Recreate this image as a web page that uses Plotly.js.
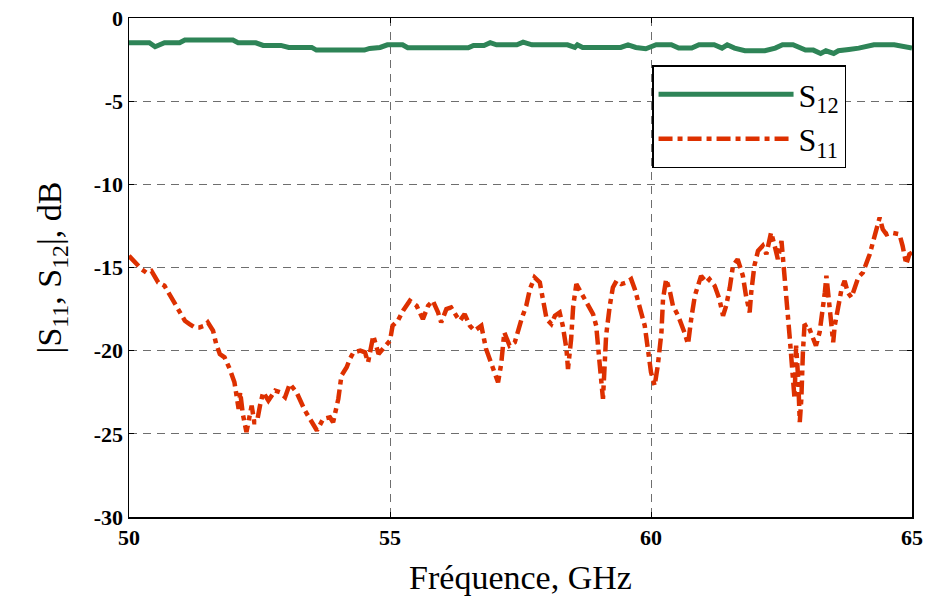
<!DOCTYPE html>
<html>
<head>
<meta charset="utf-8">
<script src="https://cdn.plot.ly/plotly-3.0.1.min.js"></script>
<style>html,body{margin:0;padding:0;background:#fff;}#chart{width:930px;height:610px;}</style>
</head>
<body>
<div id="chart"></div>
<script>
// S12 (transmission) data
const s12Freq = [50.0,50.39,50.5,50.68,50.97,51.07,51.99,52.09,52.43,52.57,52.91,53.06,53.5,53.59,54.51,54.61,54.81,54.95,55.24,55.34,56.5,56.6,56.8,56.92,57.04,57.43,57.55,57.72,58.4,58.54,58.59,58.69,59.42,59.56,59.71,59.9,60.1,60.39,60.53,60.78,60.92,61.21,61.36,61.46,61.6,61.8,62.18,62.38,62.52,62.72,62.96,63.11,63.25,63.35,63.5,63.59,63.79,63.98,64.27,64.66,65.0];
const s12dB = [-1.49,-1.49,-1.73,-1.49,-1.49,-1.33,-1.33,-1.49,-1.49,-1.65,-1.65,-1.77,-1.77,-1.93,-1.93,-1.83,-1.77,-1.61,-1.61,-1.79,-1.79,-1.65,-1.65,-1.48,-1.61,-1.61,-1.45,-1.61,-1.61,-1.77,-1.61,-1.77,-1.77,-1.61,-1.77,-1.85,-1.61,-1.61,-1.81,-1.81,-1.61,-1.61,-1.81,-1.61,-1.81,-1.97,-1.97,-1.81,-1.61,-1.61,-1.93,-1.93,-2.13,-1.97,-2.13,-1.97,-1.89,-1.81,-1.61,-1.61,-1.81];

// S11 (reflection) data
const s11Freq = [50.0,50.24,50.33,50.43,50.56,50.68,50.81,50.94,51.07,51.16,51.26,51.35,51.45,51.51,51.61,51.67,51.74,51.83,51.93,52.02,52.1,52.13,52.18,52.25,52.31,52.35,52.4,52.45,52.51,52.57,52.67,52.8,52.89,52.99,53.08,53.21,53.37,53.5,53.6,53.72,53.85,53.91,54.01,54.07,54.17,54.23,54.3,54.43,54.52,54.58,54.68,54.78,54.9,55.0,55.05,55.15,55.25,55.38,55.51,55.63,55.73,55.82,55.92,55.98,56.08,56.17,56.27,56.34,56.43,56.53,56.62,56.75,56.84,56.91,57.0,57.07,57.13,57.16,57.19,57.29,57.39,57.52,57.61,57.68,57.77,57.87,57.93,58.0,58.09,58.16,58.25,58.31,58.38,58.41,58.47,58.51,58.57,58.67,58.79,58.89,58.95,58.98,59.02,59.08,59.12,59.14,59.21,59.27,59.34,59.43,59.53,59.62,59.69,59.78,59.88,59.94,60.0,60.07,60.13,60.2,60.23,60.29,60.36,60.42,60.52,60.64,60.71,60.77,60.84,60.9,60.96,61.06,61.12,61.22,61.31,61.38,61.44,61.51,61.57,61.66,61.76,61.82,61.89,61.92,61.98,62.05,62.14,62.21,62.3,62.37,62.43,62.5,62.53,62.56,62.59,62.62,62.66,62.69,62.72,62.75,62.78,62.82,62.85,62.88,62.91,62.94,63.0,63.1,63.16,63.23,63.29,63.33,63.36,63.39,63.45,63.49,63.52,63.58,63.65,63.71,63.77,63.84,63.9,63.97,64.06,64.12,64.19,64.25,64.32,64.38,64.44,64.51,64.6,64.76,64.82,64.89,64.95,65.0];
const s11dB = [-14.3,-15.1,-15.3,-15.2,-15.9,-16.1,-16.8,-17.5,-18.2,-18.4,-18.6,-18.6,-18.5,-18.3,-18.8,-19.6,-20.2,-20.4,-21.1,-21.9,-23.5,-22.5,-23.8,-24.9,-23.7,-23.3,-24.3,-24.3,-23.3,-22.5,-23.0,-22.4,-22.5,-22.8,-22.0,-22.5,-23.6,-24.3,-24.8,-24.1,-24.0,-24.3,-22.9,-21.5,-21.0,-20.5,-20.1,-20.0,-20.1,-20.7,-19.1,-20.2,-19.8,-19.4,-18.5,-18.2,-17.6,-17.0,-17.3,-18.1,-17.3,-17.0,-17.7,-18.3,-17.5,-17.4,-17.9,-18.2,-17.8,-18.5,-18.8,-18.5,-19.9,-20.5,-21.2,-21.9,-20.8,-19.7,-18.9,-19.7,-19.5,-18.1,-17.3,-16.3,-15.6,-15.9,-17.1,-18.1,-18.4,-17.9,-17.7,-18.5,-19.9,-21.1,-19.3,-17.3,-16.0,-16.6,-17.2,-17.8,-18.5,-19.3,-20.9,-22.9,-20.9,-19.1,-17.3,-16.2,-15.8,-16.0,-15.9,-15.7,-16.3,-17.3,-18.5,-19.9,-21.3,-22.1,-20.9,-18.9,-16.9,-15.7,-16.4,-17.3,-17.9,-18.9,-19.6,-18.1,-16.7,-16.1,-15.5,-15.9,-15.7,-16.1,-16.9,-17.9,-17.3,-16.2,-14.9,-14.5,-15.5,-16.7,-17.7,-16.5,-14.9,-14.0,-13.7,-14.2,-12.9,-13.7,-14.5,-13.4,-14.4,-15.5,-16.9,-18.1,-19.3,-20.5,-22.1,-22.9,-19.7,-21.7,-24.3,-22.9,-20.1,-18.5,-18.4,-19.3,-19.7,-18.9,-17.7,-16.5,-15.5,-16.3,-18.1,-19.5,-18.5,-17.3,-16.3,-15.8,-16.5,-16.8,-16.2,-15.6,-15.3,-14.8,-14.2,-13.5,-12.7,-12.0,-12.7,-13.0,-12.9,-13.0,-13.7,-14.8,-14.2,-14.1];

// Tick labels
const xTickVals = [50, 55, 60, 65];
const xTickText = ["50", "55", "60", "65"];
const yTickVals = [0, -5, -10, -15, -20, -25, -30];
const yTickText = ["0", "-5", "-10", "-15", "-20", "-25", "-30"];

const serif = "Liberation Serif, Times New Roman, serif";

const traces = [
  {x: s12Freq, y: s12dB, type: "scatter", mode: "lines", name: "S<sub>12</sub>",
   legendgroup: "g12", line: {color: "#2e8457", width: 5}},
  {x: s11Freq, y: s11dB, type: "scatter", mode: "lines", name: "S<sub>11</sub>",
   legendgroup: "g11", line: {color: "#dd3000", width: 4.5, dash: "14px,5px,5px,5px"}}
];

const axisCommon = {
  showline: true, linecolor: "#000", linewidth: 1.5, mirror: "ticks",
  ticks: "inside", ticklen: 5, tickcolor: "#000",
  showgrid: true, gridcolor: "#6e6e6e", gridwidth: 1, griddash: "8px,6px",
  zeroline: false,
  tickfont: {family: serif, size: 22, color: "#000", weight: "bold"}
};

const layout = {
  width: 930, height: 610,
  margin: {l: 129, r: 18, t: 18, b: 93},
  paper_bgcolor: "#fff", plot_bgcolor: "#fff",
  showlegend: true,
  legend: {
    x: 0.668, y: 0.905, xanchor: "left", yanchor: "top",
    bgcolor: "#fff", bordercolor: "#000", borderwidth: 1.5,
    font: {family: serif, size: 32, color: "#000"},
    itemwidth: 135, tracegroupgap: 26, traceorder: "normal"
  },
  xaxis: Object.assign({}, axisCommon, {
    range: [50, 65], tickvals: xTickVals, ticktext: xTickText,
    title: {text: "Fréquence, GHz", font: {family: serif, size: 34, color: "#000"}, standoff: 16}
  }),
  yaxis: Object.assign({}, axisCommon, {
    range: [-30, 0], tickvals: yTickVals, ticktext: yTickText,
    title: {text: "|S<sub>11</sub>, S<sub>12</sub>|, dB", font: {family: serif, size: 34, color: "#000"}, standoff: 22}
  })
};

Plotly.newPlot("chart", traces, layout, {displayModeBar: false, staticPlot: true});
</script>
</body>
</html>
